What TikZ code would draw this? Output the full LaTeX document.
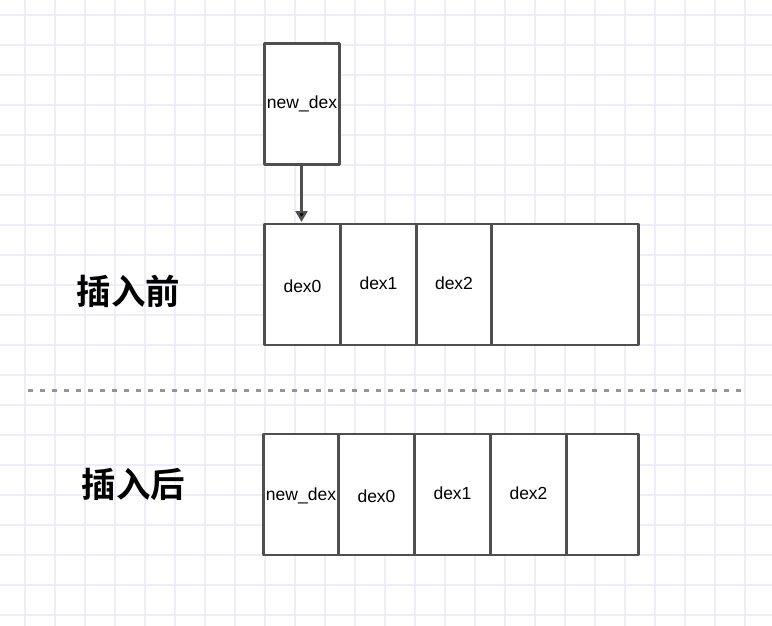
\documentclass[tikz,border=0pt]{standalone}
\usetikzlibrary{arrows.meta}
\usepackage{fontspec}
\setmainfont{Liberation Sans}
\newfontfamily\cjk{Noto Sans CJK SC}[BoldFont={Noto Sans CJK SC Bold}]
\definecolor{gridc}{HTML}{EEEEF8}
\definecolor{boxc}{HTML}{4F4F4F}
\definecolor{dashc}{HTML}{959595}
\tikzset{
  cell/.style={draw=boxc, line width=2.4pt, fill=white, rectangle, anchor=north west,
    inner sep=0pt, outer sep=0pt, minimum height=121pt, line join=round,
    font=\fontsize{17.5}{20}\selectfont},
  txt/.style={font=\fontsize{17.5}{20}\selectfont, inner sep=0pt},
  label/.style={font=\cjk\bfseries\fontsize{34.5}{38}\selectfont, inner sep=0pt},
}
\begin{document}
\begin{tikzpicture}[x=1pt, y=-1pt]
\useasboundingbox (0,0) rectangle (772,626);
\fill[white] (0,0) rectangle (772,626);
\foreach \x in {25,55,...,745} \draw[gridc, line width=1.8pt] (\x,0) -- (\x,626);
\foreach \y in {15,45,...,615} \draw[gridc, line width=1.8pt] (0,\y) -- (772,\y);

% top pointer box
\node[cell, minimum width=75pt] (nd) at (264.5,43.5) {new\_dex};

% before insertion
\node[cell, minimum width=76pt] (a0) at (264.5,224) {};
\node[cell, minimum width=76pt] (a1) at (340.5,224) {};
\node[cell, minimum width=75pt] (a2) at (416.5,224) {};
\node[cell, minimum width=147pt] (a3) at (491.5,224) {};
\node[txt] (t0) at ([yshift=-1.5pt]a0.center) {dex0};
\node[txt] (t1) at ([yshift=1.5pt]a1.center) {dex1};
\node[txt] (t2) at ([yshift=1.5pt]a2.center) {dex2};

\coordinate (s) at ([xshift=-0.5pt]nd.south);
\draw[boxc, line width=2.4pt, -{Triangle[length=11pt, width=12pt, fill=black]}, shorten >=2pt] (s) -- (s |- a0.north);

% separator
\draw[dashc, line width=3pt, dash pattern=on 5pt off 7pt] (28,390) -- (745,390);

% after insertion
\node[cell, minimum width=75pt] (b0) at (263.5,434) {};
\node[cell, minimum width=76pt] (b1) at (338.5,434) {};
\node[cell, minimum width=76pt] (b2) at (414.5,434) {};
\node[cell, minimum width=76pt] (b3) at (490.5,434) {};
\node[cell, minimum width=72pt] (b4) at (566.5,434) {};
\node[txt] (u0) at ([yshift=-1.5pt]b0.center) {new\_dex};
\node[txt] (u1) at ([yshift=-1.5pt]b1.center) {dex0};
\node[txt] (u2) at ([yshift=1.5pt]b2.center) {dex1};
\node[txt] (u3) at ([yshift=1.5pt]b3.center) {dex2};

\node[label] (before) at (128.5,291) {插入前};
\node[label] (after) at (133.5,484) {插入后};
\end{tikzpicture}
\end{document}
